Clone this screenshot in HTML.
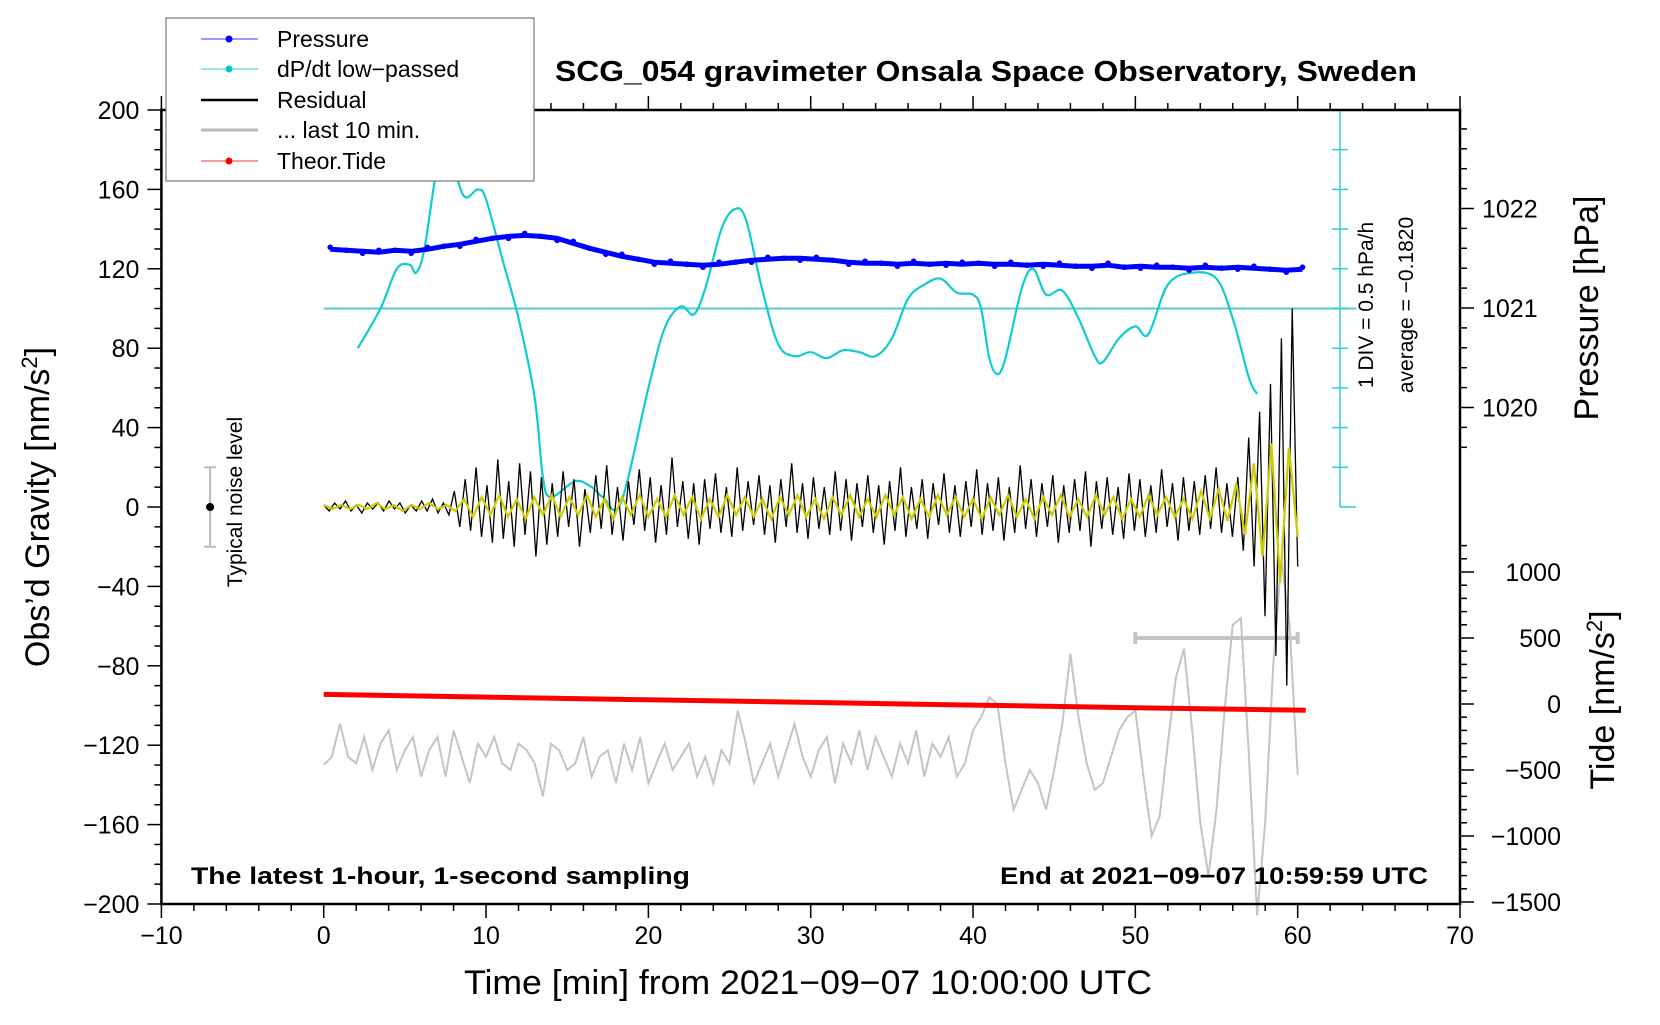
<!DOCTYPE html>
<html><head><meta charset="utf-8"><style>
body{margin:0;background:#fff}
svg text{font-family:"Liberation Sans",sans-serif}
</style></head><body>
<svg id="chart" width="1660" height="1020" viewBox="0 0 1660 1020" xmlns="http://www.w3.org/2000/svg">
<rect width="1660" height="1020" fill="#fff"/>
<g id="grid"></g>
<g id="series"></g>
<g id="axes"></g>
<text x="555" y="81" font-size="29" font-weight="bold" textLength="862" lengthAdjust="spacingAndGlyphs">SCG_054 gravimeter Onsala Space Observatory, Sweden</text>
<text x="191" y="884" font-size="24" font-weight="bold" textLength="499" lengthAdjust="spacingAndGlyphs">The latest 1-hour, 1-second sampling</text>
<text x="1000" y="884" font-size="24" font-weight="bold" textLength="428" lengthAdjust="spacingAndGlyphs">End at 2021−09−07 10:59:59 UTC</text>
<text x="464" y="994" font-size="34" textLength="688" lengthAdjust="spacingAndGlyphs">Time [min] from 2021−09−07 10:00:00 UTC</text>
<text transform="translate(49,507) rotate(-90)" font-size="34" text-anchor="middle">Obs’d Gravity [nm/s<tspan baseline-shift="super" font-size="22">2</tspan>]</text>
<text transform="translate(1598,308) rotate(-90)" font-size="34" text-anchor="middle">Pressure [hPa]</text>
<text transform="translate(1614,700) rotate(-90)" font-size="34" text-anchor="middle">Tide [nm/s<tspan baseline-shift="super" font-size="22">2</tspan>]</text>
<text transform="translate(1373,305) rotate(-90)" font-size="21" text-anchor="middle">1 DIV = 0.5 hPa/h</text>
<text transform="translate(1413,305) rotate(-90)" font-size="21" text-anchor="middle">average = −0.1820</text>
<text transform="translate(242,502) rotate(-90)" font-size="21" text-anchor="middle">Typical noise level</text>
<g>
<rect x="166" y="18" width="368" height="163" fill="#fff" stroke="#777" stroke-width="1.2"/>
<line x1="201" y1="39" x2="258" y2="39" stroke="#33f" stroke-width="1"/><circle cx="229" cy="39" r="3.5" fill="#00f"/>
<text x="277" y="47" font-size="23">Pressure</text>
<line x1="201" y1="69" x2="258" y2="69" stroke="#3cc" stroke-width="1"/><circle cx="229" cy="69" r="3.5" fill="#0cc"/>
<text x="277" y="77" font-size="23">dP/dt low−passed</text>
<line x1="201" y1="100" x2="258" y2="100" stroke="#000" stroke-width="2.5"/>
<text x="277" y="108" font-size="23">Residual</text>
<line x1="201" y1="130" x2="258" y2="130" stroke="#bbb" stroke-width="3"/>
<text x="277" y="138" font-size="23">... last 10 min.</text>
<line x1="201" y1="161" x2="258" y2="161" stroke="#f33" stroke-width="1"/><circle cx="229" cy="161" r="3.5" fill="#f00"/>
<text x="277" y="169" font-size="23">Theor.Tide</text>
</g>
</svg>
<script>
// ---- data ----
const pressureHpa=[1021.59,1021.58,1021.57,1021.56,1021.58,1021.57,1021.59,1021.62,1021.64,1021.67,1021.70,1021.72,1021.73,1021.72,1021.70,1021.65,1021.60,1021.56,1021.52,1021.49,1021.46,1021.45,1021.44,1021.43,1021.44,1021.46,1021.48,1021.49,1021.50,1021.50,1021.49,1021.48,1021.46,1021.45,1021.45,1021.44,1021.45,1021.44,1021.45,1021.44,1021.45,1021.44,1021.44,1021.43,1021.44,1021.43,1021.42,1021.42,1021.43,1021.41,1021.42,1021.41,1021.41,1021.40,1021.41,1021.40,1021.41,1021.40,1021.39,1021.38,1021.39];
const dpdtTimes=[2.1,3.5,4.5,5.3,5.7,6.2,7.0,7.6,8.6,9.5,10,11,12,13,13.5,14,15.5,16.5,17.2,18.3,20,21,22,22.8,23.5,24.5,25.3,26,27,28,29,30,31,32,33,34,35,36,37,38,39,40,40.5,41,41.5,42,43,43.7,44.5,45.5,46.5,47.5,48,49,50,50.8,52,53.5,55,56,57,57.5];
const dpdtValues=[80,100,120,122,118,130,172,182,157,160,155,125,95,55,15,5,13,10,5,2,60,90,101,97,110,140,150,145,110,82,76,78,75,79,78,76,85,105,112,115,108,107,100,75,67,75,110,120,107,109,95,76,73,85,91,87,112,118,115,95,65,57];
const residual=[1,-2,2,-1,3,-2,1,-3,2,-1,2,-2,3,-1,2,-3,1,-2,3,-2,4,-3,2,-4,
8,-10,14,-12,20,-15,11,-18,24,-16,13,-20,22,-14,18,-25,15,-19,
12,-15,18,-10,14,-20,9,-13,16,-11,21,-14,10,-17,13,-9,19,-12,
15,-18,11,-14,25,-10,13,-16,12,-19,14,-11,17,-13,10,-15,20,-12,
13,-9,16,-14,11,-18,14,-10,22,-13,12,-16,15,-11,10,-14,18,-12,
14,-17,12,-10,16,-13,11,-19,13,-12,20,-15,10,-11,14,-16,12,-9,
17,-13,11,-15,13,-10,19,-14,12,-12,15,-17,10,-13,21,-11,14,-15,
12,-10,16,-18,11,-13,14,-12,18,-20,13,-11,15,-14,10,-16,17,-12,
14,-15,11,-13,19,-10,12,-17,15,-12,13,-14,16,-11,20,-13,12,-15,
15,-22,35,-30,48,-55,62,-75,85,-90,100,-30];
const smoothed=[1,-1,1,-1,1,-1,2,-1,1,-2,1,-1,2,-1,1,-2,
4,-5,5,-4,6,-5,4,-6,5,-4,6,-5,
5,-4,6,-5,4,-6,5,-4,6,-5,4,-5,6,-4,5,-6,4,-5,6,-4,5,-5,4,-6,
5,-4,6,-5,4,-6,5,-4,6,-5,4,-5,6,-4,5,-6,4,-5,6,-4,5,-5,4,-6,
5,-4,6,-5,4,-6,5,-4,6,-5,4,-5,6,-4,5,-6,4,-5,6,-4,5,-5,4,-6,
8,-6,9,-7,
12,-14,22,-25,32,-38,30,-15];
const last10=[-460,-400,-150,-400,-450,-250,-500,-300,-200,-500,-350,-250,-550,-350,-250,-550,-200,-400,-600,-300,-400,-250,-450,-500,-300,-350,-450,-700,-300,-350,-500,-450,-250,-550,-400,-350,-600,-300,-500,-250,-600,-450,-300,-500,-400,-300,-550,-400,-600,-350,-450,-50,-300,-600,-450,-300,-550,-350,-150,-400,-550,-350,-250,-600,-300,-450,-200,-500,-250,-400,-550,-300,-450,-200,-550,-300,-400,-250,-550,-450,-200,-100,50,0,-450,-800,-650,-500,-600,-800,-500,-150,380,-100,-450,-650,-600,-400,-200,-100,-50,-550,-1000,-850,-300,200,420,-200,-900,-1300,-800,-50,600,650,-400,-1600,-900,300,1100,600,-540];
const tideTimes=[0,10,20,30,40,50,60.5];
const tideValues=[73,52,32,12,-8,-28,-48];
const xTicks=[-10,0,10,20,30,40,50,60,70];
const gTicks=[200,160,120,80,40,0,-40,-80,-120,-160,-200];
const pTicks=[1020,1021,1022];
const tTicks=[1000,500,0,-500,-1000,-1500];

// ---- scales ----
const L=161.4,R=1460,TOP=110,BOT=904;
const X=t=>L+(t+10)*(R-L)/80;
const G=v=>507-v*(BOT-TOP)/400;
const P=p=>308-(p-1021)*99.5;
const T=v=>704-v*0.132;
const NS='http://www.w3.org/2000/svg';
const series=document.getElementById('series'),axes=document.getElementById('axes');
function mk(tag,attrs,parent){const e=document.createElementNS(NS,tag);for(const k in attrs)e.setAttribute(k,attrs[k]);parent.appendChild(e);return e;}
function poly(pts){return pts.map((p,i)=>(i?'L':'M')+p[0].toFixed(1)+' '+p[1].toFixed(1)).join(' ');}
function smooth(pts){let d='M'+pts[0][0]+' '+pts[0][1];for(let i=0;i<pts.length-1;i++){const p0=pts[Math.max(0,i-1)],p1=pts[i],p2=pts[i+1],p3=pts[Math.min(pts.length-1,i+2)];const c1=[p1[0]+(p2[0]-p0[0])/6,p1[1]+(p2[1]-p0[1])/6],c2=[p2[0]-(p3[0]-p1[0])/6,p2[1]-(p3[1]-p1[1])/6];d+=` C${c1[0].toFixed(1)} ${c1[1].toFixed(1)} ${c2[0].toFixed(1)} ${c2[1].toFixed(1)} ${p2[0].toFixed(1)} ${p2[1].toFixed(1)}`;}return d;}

// dP/dt reference line and scale
const SX=1340;
let e=mk('line',{x1:X(0),y1:G(100),x2:SX+16,y2:G(100),stroke:'#5cc',"stroke-width":2},series);

e=mk('line',{x1:SX,y1:G(200),x2:SX,y2:G(0),stroke:'#3cc',"stroke-width":1.5},series);

for(let v=0;v<=200;v+=20){const big=v===0;const t=mk('line',{x1:big?SX:SX-8,y1:G(v),x2:big?SX+16:SX+8,y2:G(v),stroke:'#3cc',"stroke-width":1.5},series);
}

// gray last 10 min
e=mk('path',{d:poly(last10.map((v,i)=>[X(i*0.5),T(v)])),fill:'none',stroke:'#c4c4c4',"stroke-width":2},series);

e=mk('path',{d:`M${X(50)} ${T(500)}H${X(60)}M${X(50)} ${T(500)-6}V${T(500)+6}M${X(60)} ${T(500)-6}V${T(500)+6}`,stroke:'#c4c4c4',"stroke-width":4,fill:'none'},series);


// tide
e=mk('path',{d:poly(tideTimes.map((t,i)=>[X(t),T(tideValues[i])])),fill:'none',stroke:'#f00',"stroke-width":5},series);


// dpdt curve
e=mk('path',{d:smooth(dpdtTimes.map((t,i)=>[X(t),G(dpdtValues[i])])),fill:'none',stroke:'#1cc',"stroke-width":2.2},series);


// residual
const rStep=60/(residual.length-1);
e=mk('path',{d:poly(residual.map((v,i)=>[X(i*rStep),G(v)])),fill:'none',stroke:'#000',"stroke-width":1.3},series);

const sStep=60/(smoothed.length-1);
e=mk('path',{d:poly(smoothed.map((v,i)=>[X(i*sStep),G(v)])),fill:'none',stroke:'#cc0',"stroke-width":2.2},series);


// pressure
const pStep=59.9/(pressureHpa.length-1);
e=mk('path',{d:poly(pressureHpa.map((p,i)=>[X(0.4+i*pStep),P(p)])),fill:'none',stroke:'#00f',"stroke-width":5},series);

pressureHpa.forEach((p,i)=>{const c=mk('circle',{cx:X(0.4+i*pStep),cy:P(p)+((i%3)-1)*2,r:2.8,fill:'#00f'},series);
});

// noise bar
e=mk('path',{d:`M${X(-7)} ${G(20)}V${G(-20)}M${X(-7)-6} ${G(20)}H${X(-7)+6}M${X(-7)-6} ${G(-20)}H${X(-7)+6}`,stroke:'#bbb',"stroke-width":2,fill:'none'},series);

e=mk('circle',{cx:X(-7),cy:G(0),r:4,fill:'#000'},series);


// frame
e=mk('rect',{x:L,y:TOP,width:R-L,height:BOT-TOP,fill:'none',stroke:'#000',"stroke-width":2.5},axes);

// x ticks
for(let t=-10;t<=70;t+=2){const major=t%10===0;
const a=mk('line',{x1:X(t),y1:BOT,x2:X(t),y2:BOT+(major?14:7),stroke:'#000',"stroke-width":1.5},axes);
const b=mk('line',{x1:X(t),y1:TOP,x2:X(t),y2:TOP-(major?14:7),stroke:'#000',"stroke-width":1.5},axes);}
xTicks.forEach(t=>{const s=mk('text',{x:X(t),y:BOT+40,"font-size":25,"text-anchor":"middle"},axes);s.textContent=(t<0?'−':'')+Math.abs(t);
});
// left ticks
for(let v=-200;v<=200;v+=10){const major=v%40===0;const a=mk('line',{x1:L,y1:G(v),x2:L-(major?14:7),y2:G(v),stroke:'#000',"stroke-width":1.5},axes);
}
gTicks.forEach(v=>{const s=mk('text',{x:L-22,y:G(v)+9,"font-size":25,"text-anchor":"end"},axes);s.textContent=(v<0?'−':'')+Math.abs(v);
});
// pressure ticks
for(let p=1019.6;p<=1022.95;p+=0.2){const major=Math.abs(p-Math.round(p))<0.01;const a=mk('line',{x1:R,y1:P(p),x2:R+(major?14:7),y2:P(p),stroke:'#000',"stroke-width":1.5},axes);
}
pTicks.forEach(p=>{const s=mk('text',{x:R+22,y:P(p)+9,"font-size":25},axes);s.textContent=p;
});
// tide ticks
for(let v=-1500;v<=1200;v+=100){const major=v%500===0;const a=mk('line',{x1:R,y1:T(v),x2:R+(major?14:7),y2:T(v),stroke:'#000',"stroke-width":1.5},axes);
}
tTicks.forEach(v=>{const s=mk('text',{x:1561,y:T(v)+9,"font-size":25,"text-anchor":"end"},axes);s.textContent=(v<0?'−':'')+Math.abs(v);
});
</script>
</body></html>
